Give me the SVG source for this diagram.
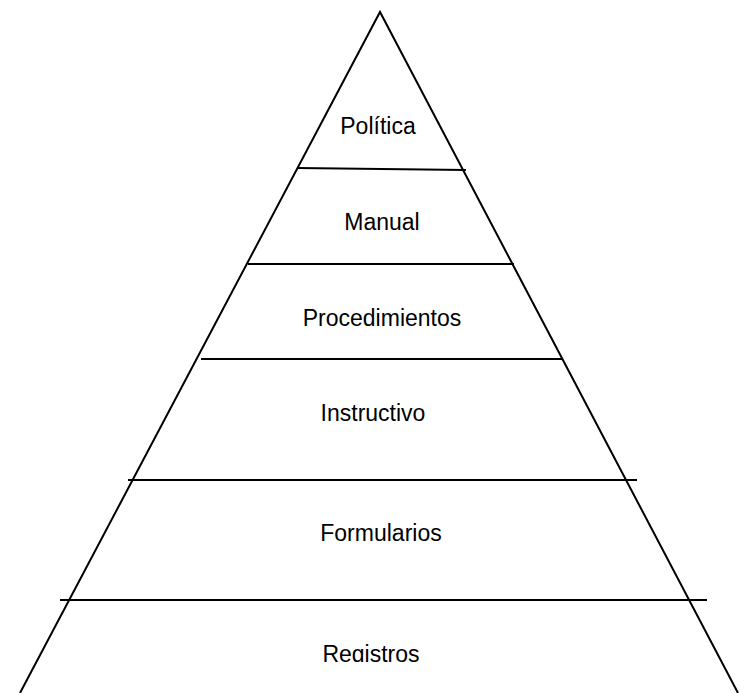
<svg xmlns="http://www.w3.org/2000/svg" width="746" height="693" viewBox="0 0 746 693">
<style>
.l{stroke:#000;stroke-width:2;fill:none}
.t{font-family:"Liberation Sans",Arial,sans-serif;font-size:23px;fill:#000;text-anchor:middle}
</style>
<defs><clipPath id="c"><rect x="0" y="600" width="746" height="62"/></clipPath></defs>
<rect width="746" height="693" fill="#fff"/>
<g id="connectors">
<polyline class="l" points="20,693 380,12 738,693"/>
<line class="l" x1="297" y1="168" x2="466" y2="170"/>
<line class="l" x1="248" y1="264" x2="514" y2="264"/>
<line class="l" x1="201" y1="359" x2="563" y2="359"/>
<line class="l" x1="128" y1="480" x2="637" y2="480"/>
<line class="l" x1="60" y1="600" x2="707" y2="600"/>
</g>
<g id="politica"><text class="t" x="378" y="134">Política</text></g>
<g id="manual"><text class="t" x="382" y="230">Manual</text></g>
<g id="procedimientos"><text class="t" x="382" y="326">Procedimientos</text></g>
<g id="instructivo"><text class="t" x="373" y="421">Instructivo</text></g>
<g id="formularios"><text class="t" x="381" y="541">Formularios</text></g>
<g id="registros"><text class="t" x="371" y="662" clip-path="url(#c)">Registros</text></g>
</svg>
